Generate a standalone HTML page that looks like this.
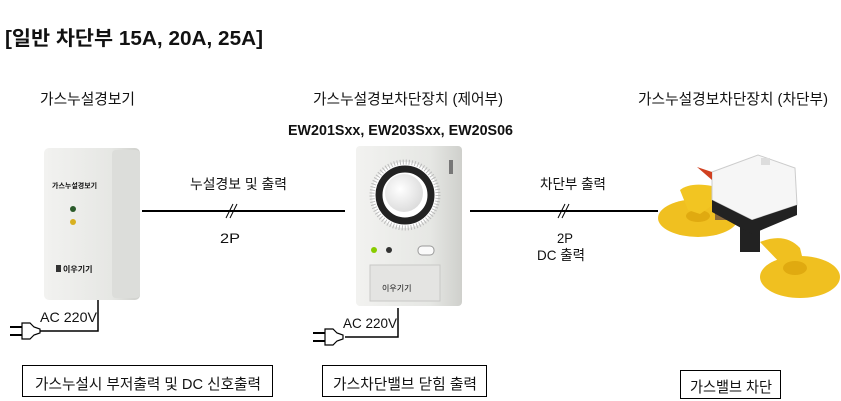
<!DOCTYPE html>
<html><head><meta charset="utf-8"><style>
html,body{margin:0;padding:0;background:#fff;}
svg{display:block;}
text{font-family:"Liberation Sans","Noto Sans CJK KR",sans-serif;fill:#111;}
</style></head><body>
<svg width="841" height="401" viewBox="0 0 841 401" xmlns="http://www.w3.org/2000/svg">
<defs>
<linearGradient id="dev" x1="0" x2="1"><stop offset="0" stop-color="#f2f2f0"/><stop offset="0.7" stop-color="#e6e7e4"/><stop offset="1" stop-color="#cfd0cc"/></linearGradient>
<radialGradient id="knob" cx="0.4" cy="0.4" r="0.7"><stop offset="0" stop-color="#fff"/><stop offset="1" stop-color="#d8d8d8"/></radialGradient>
</defs>
<text x="5" y="45" font-size="20" font-weight="bold" textLength="258" lengthAdjust="spacingAndGlyphs">[일반 차단부 15A, 20A, 25A]</text>
<text x="40" y="104" font-size="15" textLength="95" lengthAdjust="spacingAndGlyphs">가스누설경보기</text>
<text x="313" y="104" font-size="15" textLength="190" lengthAdjust="spacingAndGlyphs">가스누설경보차단장치 (제어부)</text>
<text x="288" y="135" font-size="15" font-weight="bold" textLength="225" lengthAdjust="spacingAndGlyphs">EW201Sxx, EW203Sxx, EW20S06</text>
<text x="638" y="104" font-size="15" textLength="190" lengthAdjust="spacingAndGlyphs">가스누설경보차단장치 (차단부)</text>

<!-- device 1 -->
<rect x="44" y="148" width="96" height="152" rx="5" fill="url(#dev)"/>
<rect x="112" y="150" width="28" height="148" rx="4" fill="#dcddda"/>
<text x="52" y="188" font-size="7" font-weight="bold" fill="#333">가스누설경보기</text>
<circle cx="73" cy="209" r="3" fill="#2a5a2a"/>
<circle cx="73" cy="222" r="3" fill="#d8b020"/>
<rect x="56" y="265" width="5" height="7" fill="#333"/>
<text x="63" y="272" font-size="8" font-weight="bold" fill="#333">이우기기</text>

<!-- line 1 -->
<line x1="142" y1="211" x2="345" y2="211" stroke="#000" stroke-width="2"/>
<line x1="226" y1="218" x2="233" y2="204" stroke="#000" stroke-width="1"/>
<line x1="230" y1="218" x2="237" y2="204" stroke="#000" stroke-width="1"/>
<text x="190" y="189" font-size="14" textLength="97" lengthAdjust="spacingAndGlyphs">누설경보 및 출력</text>
<text x="220" y="243" font-size="14" textLength="20" lengthAdjust="spacingAndGlyphs">2P</text>

<!-- AC 1 -->
<polyline points="98,300 98,331 40,331" fill="none" stroke="#000" stroke-width="1.5"/>
<text x="40" y="322" font-size="14" textLength="57" lengthAdjust="spacingAndGlyphs">AC 220V</text>
<path d="M22,323 L30,323 L34,327 L40,329 L40,333 L34,335 L30,339 L22,339 Z" fill="#fff" stroke="#000" stroke-width="1.2"/>
<line x1="10" y1="327" x2="22" y2="327" stroke="#000" stroke-width="2"/>
<line x1="10" y1="335" x2="22" y2="335" stroke="#000" stroke-width="2"/>

<!-- device 2 -->
<rect x="356" y="146" width="106" height="160" rx="4" fill="url(#dev)"/>
<circle cx="405" cy="195" r="33" fill="#fff" stroke="#bbb" stroke-dasharray="1 2" stroke-width="5"/>
<circle cx="405" cy="195" r="26" fill="none" stroke="#222" stroke-width="7"/>
<circle cx="404" cy="193" r="19" fill="url(#knob)"/>
<rect x="449" y="160" width="4" height="14" fill="#777"/>
<circle cx="374" cy="250" r="3" fill="#8c0"/>
<circle cx="389" cy="250" r="3" fill="#333"/>
<rect x="418" y="246" width="16" height="9" rx="4" fill="#fafafa" stroke="#999"/>
<rect x="370" y="265" width="70" height="36" fill="#e4e4e2" stroke="#c8c8c6"/>
<text x="382" y="291" font-size="8" fill="#bbb">이우기기</text>

<!-- AC 2 -->
<polyline points="398,308 398,337 345,337" fill="none" stroke="#000" stroke-width="1.5"/>
<text x="343" y="328" font-size="14" textLength="54" lengthAdjust="spacingAndGlyphs">AC 220V</text>
<path d="M325,329 L333,329 L337,333 L343,335 L343,339 L337,341 L333,345 L325,345 Z" fill="#fff" stroke="#000" stroke-width="1.2"/>
<line x1="313" y1="333" x2="325" y2="333" stroke="#000" stroke-width="2"/>
<line x1="313" y1="341" x2="325" y2="341" stroke="#000" stroke-width="2"/>

<!-- line 2 -->
<line x1="470" y1="211" x2="658" y2="211" stroke="#000" stroke-width="2"/>
<line x1="558" y1="218" x2="565" y2="204" stroke="#000" stroke-width="1"/>
<line x1="562" y1="218" x2="569" y2="204" stroke="#000" stroke-width="1"/>
<text x="540" y="189" font-size="14" textLength="66" lengthAdjust="spacingAndGlyphs">차단부 출력</text>
<text x="557" y="243" font-size="14" textLength="16" lengthAdjust="spacingAndGlyphs">2P</text>
<text x="537" y="260" font-size="14" textLength="48" lengthAdjust="spacingAndGlyphs">DC 출력</text>

<!-- valve -->
<ellipse cx="698" cy="218" rx="40" ry="19" fill="#f0c020"/>
<ellipse cx="698" cy="216" rx="12" ry="6" fill="#e0aa10"/>
<path d="M680,190 Q690,182 712,186 L720,200 L700,214 L688,210 Z" fill="#f2c522"/>
<rect x="715" y="200" width="45" height="20" fill="#8a6a3a"/>
<rect x="740" y="222" width="20" height="30" fill="#222"/>
<path d="M760,242 Q785,232 800,248 L805,268 L785,268 Z" fill="#f0c020"/>
<ellipse cx="800" cy="277" rx="40" ry="21" fill="#f0c020"/>
<ellipse cx="795" cy="268" rx="12" ry="7" fill="#e0aa10"/>
<path d="M712,172 L758,155 L795,168 L797,205 L752,220 L712,200 Z" fill="#f6f6f6" stroke="#ccc"/>
<path d="M712,200 L752,220 L797,205 L797,215 L752,234 L712,212 Z" fill="#222"/>
<path d="M697,167 L712,172 L712,180 Z" fill="#d04020"/>
<rect x="761" y="158" width="9" height="7" fill="#ddd"/>

<!-- bottom boxes -->
<rect x="22.5" y="365.5" width="250" height="31" fill="#fff" stroke="#000"/>
<text x="35" y="389" font-size="15" textLength="226" lengthAdjust="spacingAndGlyphs">가스누설시 부저출력 및 DC 신호출력</text>
<rect x="322.5" y="365.5" width="164" height="31" fill="#fff" stroke="#000"/>
<text x="333" y="389" font-size="15" textLength="144" lengthAdjust="spacingAndGlyphs">가스차단밸브 닫힘 출력</text>
<rect x="680.5" y="370.5" width="100" height="28" fill="#fff" stroke="#000"/>
<text x="690" y="392" font-size="15" textLength="82" lengthAdjust="spacingAndGlyphs">가스밸브 차단</text>
</svg>
</body></html>
